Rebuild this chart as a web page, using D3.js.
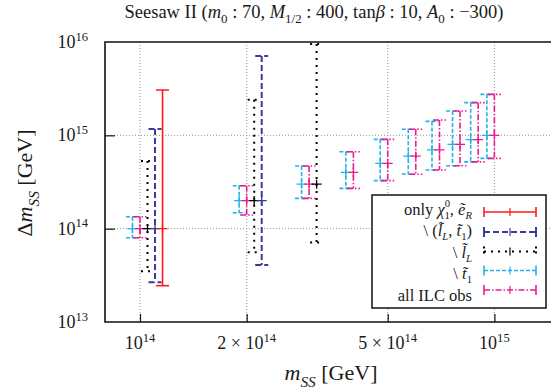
<!DOCTYPE html>
<html><head><meta charset="utf-8">
<script src="https://cdn.jsdelivr.net/npm/d3@7"></script>
<style>
body{margin:0;background:#fff}
svg{display:block}
text{font-family:"Liberation Serif","Times New Roman","DejaVu Serif",serif;fill:#1a1a1a}
</style>
</head><body>
<svg id="c" width="551" height="391"></svg>
<script>
// ---------------- data ----------------
const groupX = [1e14, 2e14, 3e14, 4e14, 5e14, 6e14, 7e14, 8e14, 9e14, 1e15];

// "all ILC obs"
const allX  = [1e14, 2e14, 3e14, 4e14, 5e14, 6e14, 7e14, 8e14, 9e14, 1e15];
const allLo = [0.80e14, 1.40e14, 2.11e14, 2.70e14, 3.27e14, 3.83e14, 4.25e14, 4.73e14, 5.20e14, 5.67e14];
const allHi = [1.34e14, 2.88e14, 4.69e14, 6.68e14, 9.06e14, 1.16e15, 1.46e15, 1.82e15, 2.24e15, 2.75e15];

// "\ t1"
const t1X  = [1e14, 2e14, 3e14, 4e14, 5e14, 6e14, 7e14, 8e14, 9e14, 1e15];
const t1Lo = [0.80e14, 1.48e14, 2.11e14, 2.70e14, 3.27e14, 3.85e14, 4.25e14, 4.73e14, 5.20e14, 5.67e14];
const t1Hi = [1.34e14, 2.88e14, 4.69e14, 6.68e14, 9.06e14, 1.16e15, 1.41e15, 1.82e15, 2.24e15, 2.75e15];

// "\ lL"
const lLX  = [1e14, 2e14, 3e14];
const lLLo = [3.5e13, 5.6e13, 7.1e13];
const lLHi = [5.3e14, 2.4e15, 9.5e15];

// "\ (lL, t1)"
const lLt1X  = [1e14, 2e14];
const lLt1Lo = [2.66e13, 4.08e13];
const lLt1Hi = [1.17e15, 7.1e15];

// "only chi, eR"
const onlyX  = [1e14];
const onlyLo = [2.45e13];
const onlyHi = [3.06e15];

const xTickValues = [1e14, 2e14, 5e14, 1e15];
const xTickLabels = [["", "10", "14"], ["2 × ", "10", "14"], ["5 × ", "10", "14"], ["", "10", "15"]];
const yTickValues = [1e13, 1e14, 1e15, 1e16];
const yTickLabels = [["10", "13"], ["10", "14"], ["10", "15"], ["10", "16"]];

// ---------------- layout ----------------
const svg = d3.select("#c");
const L = 105, T = 42, B = 322;
const decadeX = 354.4;
const xMin = 1e14 / Math.pow(10, 35 / decadeX);
const xMax = 1.6e15;
const x = d3.scaleLog().domain([xMin, xMax]).range([L, L + decadeX * Math.log10(xMax / xMin)]);
const y = d3.scaleLog().domain([1e13, 1e16]).range([B, T]);
const R = x.range()[1];
const step = 0.0212; // horizontal offset between series (decades)

svg.append("defs").append("clipPath").attr("id", "pc")
  .append("rect").attr("x", L).attr("y", T).attr("width", R - L).attr("height", B - T);

// grid
const grid = svg.append("g").attr("stroke", "#8a8a8a").attr("stroke-width", 0.9).attr("stroke-dasharray", "1,2");
xTickValues.forEach(v => grid.append("line").attr("x1", x(v)).attr("x2", x(v)).attr("y1", T).attr("y2", B));
[1e14, 1e15].forEach(v => grid.append("line").attr("x1", L).attr("x2", R).attr("y1", y(v)).attr("y2", y(v)));

// series
const series = [
  {xs: t1X, lo: t1Lo, hi: t1Hi, off: -1, color: "#22b2ec", dash: "4,2", w: 1.6},
  {xs: allX, lo: allLo, hi: allHi, off: 0, color: "#ec1a8e", dash: "6,2,1.5,2", w: 1.6},
  {xs: lLX, lo: lLLo, hi: lLHi, off: 1, color: "#000000", dash: "2,5", w: 2},
  {xs: lLt1X, lo: lLt1Lo, hi: lLt1Hi, off: 2, color: "#3b3b9b", dash: "6,3", w: 2},
  {xs: onlyX, lo: onlyLo, hi: onlyHi, off: 3, color: "#ff1a1a", dash: null, w: 1.6}
];

const plot = svg.append("g").attr("clip-path", "url(#pc)");
const cap = 6.5;
series.forEach(s => {
  const g = plot.append("g").attr("stroke", s.color).attr("stroke-width", s.w).attr("fill", "none");
  s.xs.forEach((xv, i) => {
    const px = x(xv * Math.pow(10, s.off * step));
    const yh = y(s.hi[i]), yl = y(s.lo[i]), yc = y(xv);
    const d = g.append("g");
    [ [px, yh, px, yl], [px - cap, yh, px + cap, yh], [px - cap, yl, px + cap, yl] ].forEach(c => {
      const ln = d.append("line").attr("x1", c[0]).attr("y1", c[1]).attr("x2", c[2]).attr("y2", c[3]);
      if (s.dash) ln.attr("stroke-dasharray", s.dash);
    });
    d.append("line").attr("x1", px - 5).attr("x2", px + 5).attr("y1", yc).attr("y2", yc).attr("stroke-width", 1.3);
    d.append("line").attr("x1", px).attr("x2", px).attr("y1", yc - 4.5).attr("y2", yc + 4.5).attr("stroke-width", 1.3);
  });
});

// rich text helper
function rich(sel, segs, size, subK, supK, scr) {
  subK = subK === undefined ? 0.3 : subK;
  supK = supK === undefined ? 0.4 : supK;
  scr = scr === undefined ? 0.7 : scr;
  let cur = 0;
  segs.forEach(s => {
    const want = s.s === "sub" ? size * subK : s.s === "sup" ? -size * supK : 0;
    const t = sel.append("tspan").text(s.t)
      .attr("dy", want - cur)
      .attr("font-size", s.s ? size * scr : size);
    if (s.i) t.attr("font-style", "italic");
    if (s.dx) t.attr("dx", s.dx);
    cur = want;
  });
}

// legend
const lg = svg.append("g");
lg.append("rect").attr("x", 372).attr("y", 195).attr("width", 174).attr("height", 113)
  .attr("fill", "#fff").attr("stroke", "#111").attr("stroke-width", 1.5);
const legendLabels = [
  [{t: "only "}, {t: "χ", i: 1}, {t: "0", s: "sup"}, {t: "1", s: "sub", dx: -5.5}, {t: ", "}, {t: "ẽ", i: 1}, {t: "R", s: "sub", i: 1}],
  [{t: "\\ ("}, {t: "l\u0303", i: 1}, {t: "L", s: "sub", i: 1}, {t: ", "}, {t: "t\u0303", i: 1}, {t: "1", s: "sub"}, {t: ")"}],
  [{t: "\\ "}, {t: "l\u0303", i: 1}, {t: "L", s: "sub", i: 1}],
  [{t: "\\ "}, {t: "t\u0303", i: 1}, {t: "1", s: "sub"}],
  [{t: "all ILC obs"}]
];
const legendSeries = [4, 3, 2, 0, 1];
const legendSampleY = [212, 232, 251.5, 270.5, 290];
const legendTextY = [214.5, 236, 257.5, 279, 300.5];
legendLabels.forEach((segs, k) => {
  const t = lg.append("text").attr("x", 472).attr("y", legendTextY[k]).attr("text-anchor", "end");
  rich(t, segs, 16.5, 0.27, 0.45, 0.65);
  const s = series[legendSeries[k]];
  const g = lg.append("g").attr("stroke", s.color).attr("stroke-width", s.w);
  const yy = legendSampleY[k], x1 = 484, x2 = 536;
  const ln = g.append("line").attr("x1", x1).attr("x2", x2).attr("y1", yy).attr("y2", yy);
  if (s.dash) ln.attr("stroke-dasharray", s.dash);
  [x1, x2].forEach(xx => {
    const c = g.append("line").attr("x1", xx).attr("x2", xx).attr("y1", yy - 5).attr("y2", yy + 5);
    if (s.dash && s.color === "#000000") c.attr("stroke-dasharray", "2,3");
  });
  g.append("line").attr("x1", 510).attr("x2", 510).attr("y1", yy - 4).attr("y2", yy + 4).attr("stroke-width", 1.2);
});

// axes (ticks inside)
const ax = svg.append("g");
ax.append("g").attr("transform", `translate(0,${B})`)
  .call(d3.axisBottom(x).tickValues(xTickValues).tickSizeInner(-8).tickSizeOuter(0).tickFormat(""))
  .call(g => g.select(".domain").remove())
  .call(g => g.selectAll("line").attr("stroke", "#111").attr("stroke-width", 1.2));
ax.append("g").attr("transform", `translate(${L},0)`)
  .call(d3.axisLeft(y).tickValues([1e14, 1e15]).tickSizeInner(-10).tickSizeOuter(0).tickFormat(""))
  .call(g => g.select(".domain").remove())
  .call(g => g.selectAll("line").attr("stroke", "#111").attr("stroke-width", 1.2));

// frame
svg.append("path").attr("d", `M${R},${T}H${L}V${B}H${R}`).attr("fill", "none")
  .attr("stroke", "#111").attr("stroke-width", 1.6);

// tick labels
xTickValues.forEach((v, i) => {
  const lab = xTickLabels[i];
  const t = svg.append("text").attr("x", x(v)).attr("y", 349).attr("text-anchor", "middle");
  rich(t, [{t: lab[0] + lab[1]}, {t: lab[2], s: "sup"}], 18);
});
yTickValues.forEach((v, i) => {
  const lab = yTickLabels[i];
  const t = svg.append("text").attr("x", 88).attr("y", y(v) + 6).attr("text-anchor", "end");
  rich(t, [{t: lab[0]}, {t: lab[1], s: "sup"}], 18);
});

// axis titles
const xt = svg.append("text").attr("x", 331).attr("y", 380).attr("text-anchor", "middle");
rich(xt, [{t: "m", i: 1}, {t: "SS", s: "sub", i: 1}, {t: " [GeV]"}], 22);
const yt = svg.append("text").attr("transform", "translate(32,183) rotate(-90)").attr("text-anchor", "middle");
rich(yt, [{t: "Δ"}, {t: "m", i: 1}, {t: "SS", s: "sub", i: 1}, {t: " [GeV]"}], 22);

// title
const tt = svg.append("text").attr("x", 314).attr("y", 18).attr("text-anchor", "middle");
rich(tt, [{t: "Seesaw II ("}, {t: "m", i: 1}, {t: "0", s: "sub"}, {t: " : 70, "}, {t: "M", i: 1}, {t: "1/2", s: "sub"},
          {t: " : 400, tan"}, {t: "β", i: 1}, {t: " : 10, "}, {t: "A", i: 1}, {t: "0", s: "sub"}, {t: " : −300)"}], 18.5, 0.25);
</script>
</body></html>
